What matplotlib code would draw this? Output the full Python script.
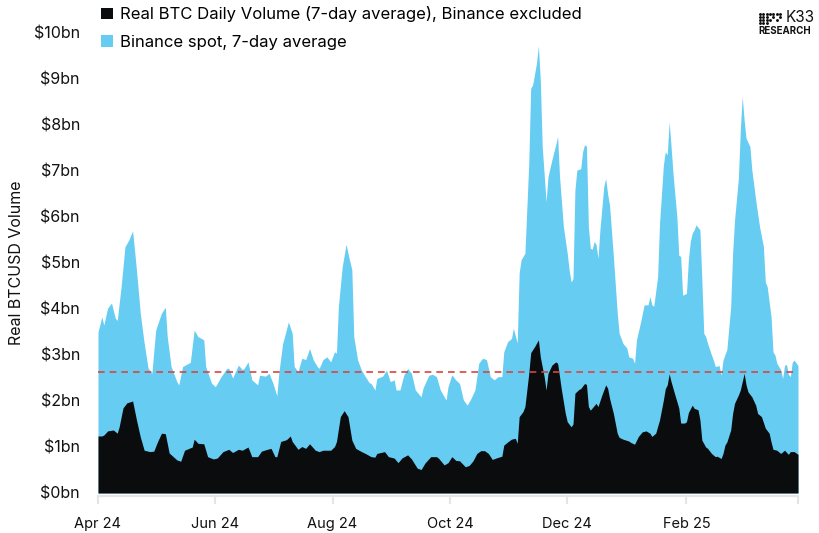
import numpy as np
import matplotlib
matplotlib.use("Agg")
import matplotlib.pyplot as plt
from matplotlib.patches import Patch

plt.rcParams['font.family'] = ['Inter', 'DejaVu Sans']

START = np.datetime64('2024-04-01')

# Combined volume (Real BTC excl. Binance + Binance spot), 7-day avg, $bn
total_days = [0, 2, 3, 5, 7, 9, 10, 12, 14, 16, 18, 20, 22, 24, 26, 28, 30, 33, 35, 36, 38, 41, 42, 44,
              48, 50, 52, 55, 56, 59, 61, 64, 67, 68, 70, 73, 75, 76, 78, 80, 83, 84, 87, 89, 91, 93, 94,
              96, 97, 99, 101, 102, 104, 106, 108, 110, 112, 114, 115, 117, 119, 121, 123, 124, 125, 127,
              129, 130, 132, 133, 135, 137, 139, 141, 142, 144, 145, 148, 150, 152, 154, 155, 157, 159,
              161, 163, 165, 168, 169, 172, 174, 176, 178, 181, 182, 184, 186, 188, 190, 192, 194, 196,
              198, 200, 202, 204, 206, 208, 210, 211, 213, 215, 216, 218, 219, 220, 222, 224, 225, 226,
              228, 229, 230, 231, 233, 234, 236, 238, 239, 240, 242, 244, 245, 246, 247, 248, 249, 251,
              252, 253, 254, 255, 256, 257, 258, 259, 260, 261, 263, 264, 265, 266, 268, 270, 271, 273,
              275, 276, 278, 279, 280, 282, 284, 286, 287, 288, 289, 291, 292, 294, 295, 296, 297, 298,
              299, 301, 302, 303, 304, 306, 307, 308, 309, 310, 311, 313, 314, 315, 316, 317, 319, 320,
              321, 323, 324, 325, 327, 329, 330, 331, 333, 334, 335, 336, 337, 339, 340, 342, 344, 346,
              347, 348, 350, 351, 352, 353, 355, 356, 357, 358, 359, 360, 361, 362, 364]
total_vals = [3.5, 3.83, 3.65, 4.02, 4.13, 3.8, 3.75, 4.48, 5.35, 5.5, 5.7, 4.85, 3.9, 3.26, 2.72, 2.6,
              3.54, 3.91, 4.04, 3.4, 2.75, 2.42, 2.35, 2.75, 2.84, 3.54, 3.4, 3.33, 2.75, 2.39, 2.31,
              2.53, 2.71, 2.71, 2.5, 2.78, 2.68, 2.71, 2.85, 2.46, 2.35, 2.56, 2.54, 2.6, 2.38, 2.11, 2.6,
              3.25, 3.4, 3.72, 3.47, 2.75, 2.64, 2.93, 2.9, 3.14, 2.89, 2.75, 2.71, 2.9, 2.96, 2.85,
              3.07, 3.04, 4.05, 4.92, 5.41, 5.21, 4.85, 3.4, 2.89, 2.67, 2.53, 2.4, 2.38, 2.24, 2.49,
              2.54, 2.67, 2.42, 2.46, 2.24, 2.24, 2.56, 2.71, 2.6, 2.24, 2.09, 2.28, 2.56, 2.58, 2.53,
              2.24, 2.02, 2.31, 2.57, 2.46, 2.38, 2.02, 1.91, 2.06, 2.24, 2.82, 2.93, 2.9, 2.53, 2.46,
              2.53, 2.53, 3.07, 3.29, 3.36, 3.58, 3.26, 4.78, 5.07, 5.21, 7.17, 8.8, 8.87, 9.34, 9.72,
              8.98, 7.53, 6.33, 6.88, 7.24, 7.57, 7.75, 6.88, 5.79, 5.21, 4.85, 4.59, 4.66, 6.59, 7.02,
              7.05, 7.42, 7.57, 7.54, 5.79, 5.32, 5.3, 5.47, 5.4, 5.1, 5.72, 6.66, 6.84, 6.5, 6.26, 5.14,
              3.91, 3.47, 3.25, 3.15, 2.96, 2.93, 2.82, 3.33, 3.69, 4.09, 4.09, 4.27, 4.09, 4.06, 4.7,
              5.86, 7.13, 7.42, 7.35, 8.07, 7.53, 6.95, 6.01, 5.17, 5.14, 4.3, 4.34, 5.07, 5.47, 5.65,
              5.72, 5.83, 5.72, 4.63, 3.47, 3.4, 3.25, 3.0, 2.89, 2.75, 2.77, 2.56, 2.89, 3.12, 4.05,
              5.21, 5.93, 6.84, 7.89, 8.62, 8.1, 7.71, 7.53, 7.02, 6.37, 5.79, 5.36, 4.59, 4.48, 3.83,
              3.07, 3.0, 2.82, 2.68, 2.49, 2.77, 2.8, 2.58, 2.53, 2.84, 2.89, 2.77]

# Real BTC daily volume excl. Binance, 7-day avg, $bn
real_days = [0, 2, 3, 5, 8, 10, 11, 13, 15, 18, 20, 22, 24, 27, 29, 31, 33, 35, 37, 41, 43, 45, 49, 50,
             52, 55, 57, 60, 62, 65, 68, 70, 73, 75, 78, 80, 83, 85, 88, 90, 92, 93, 95, 98, 100, 101,
             104, 106, 108, 110, 113, 115, 117, 121, 123, 124, 126, 128, 130, 132, 134, 137, 139, 142,
             144, 145, 149, 151, 154, 156, 158, 161, 163, 166, 168, 170, 173, 176, 177, 180, 182, 184,
             186, 188, 191, 193, 195, 197, 199, 201, 203, 205, 207, 210, 211, 213, 215, 217, 218, 219,
             221, 222, 224, 225, 227, 229, 230, 232, 233, 234, 236, 238, 239, 241, 243, 244, 246, 247,
             248, 250, 251, 253, 254, 255, 256, 257, 259, 260, 262, 264, 265, 266, 268, 270, 271, 273,
             276, 277, 279, 281, 283, 285, 287, 288, 290, 292, 294, 295, 296, 297, 298, 300, 302, 303,
             305, 306, 307, 309, 310, 312, 313, 314, 316, 317, 319, 321, 322, 324, 325, 326, 327, 329,
             330, 331, 333, 334, 335, 336, 337, 338, 340, 342, 343, 345, 347, 349, 350, 351, 353, 355,
             357, 359, 360, 362, 364]
real_vals = [1.24, 1.24, 1.26, 1.35, 1.37, 1.3, 1.44, 1.85, 1.96, 2.0, 1.59, 1.22, 0.93, 0.9, 0.91,
             1.12, 1.3, 1.29, 0.87, 0.72, 0.69, 0.93, 1.0, 1.17, 1.08, 1.07, 0.79, 0.74, 0.76, 0.9, 0.95,
             0.88, 0.95, 0.93, 1.0, 0.79, 0.79, 0.91, 0.95, 0.97, 0.79, 0.79, 1.12, 1.16, 1.24, 1.12,
             0.95, 1.01, 0.97, 1.07, 0.93, 0.9, 0.93, 0.93, 1.01, 1.12, 1.66, 1.79, 1.66, 1.15, 0.97,
             0.9, 0.86, 0.79, 0.78, 0.86, 0.9, 0.79, 0.76, 0.66, 0.76, 0.83, 0.74, 0.54, 0.51, 0.65,
             0.79, 0.79, 0.76, 0.61, 0.66, 0.79, 0.71, 0.7, 0.57, 0.6, 0.7, 0.86, 0.92, 0.92, 0.86, 0.73,
             0.76, 0.8, 1.04, 1.11, 1.17, 1.19, 1.08, 1.66, 1.77, 1.88, 2.6, 3.05, 3.18, 3.33, 2.96,
             2.53, 2.24, 2.6, 2.78, 2.85, 2.82, 2.24, 1.73, 1.55, 1.44, 1.5, 2.17, 2.25, 2.27, 2.38,
             2.36, 1.88, 1.8, 1.85, 1.95, 1.88, 2.13, 2.35, 2.28, 2.06, 1.73, 1.3, 1.21, 1.17, 1.13,
             1.1, 1.06, 1.23, 1.33, 1.35, 1.3, 1.23, 1.3, 1.59, 2.02, 2.27, 2.35, 2.59, 2.42, 2.13,
             1.85, 1.52, 1.52, 1.55, 1.75, 1.91, 1.84, 1.81, 1.59, 1.15, 1.0, 0.97, 0.86, 0.79, 0.8,
             0.75, 0.86, 1.04, 1.11, 1.37, 1.73, 1.95, 2.13, 2.24, 2.42, 2.6, 2.35, 2.2, 2.09, 1.91,
             1.73, 1.66, 1.41, 1.3, 1.11, 0.95, 0.93, 0.86, 0.93, 0.84, 0.9, 0.9, 0.84]

reference_level = 2.63
y_ticks = [0, 1, 2, 3, 4, 5, 6, 7, 8, 9, 10]
x_tick_dates = ['2024-04-01', '2024-06-01', '2024-08-01', '2024-10-01', '2024-12-01', '2025-02-01']
x_tick_labels = ['Apr 24', 'Jun 24', 'Aug 24', 'Oct 24', 'Dec 24', 'Feb 25']

label_real = 'Real BTC Daily Volume (7-day average), Binance excluded'
label_binance = 'Binance spot, 7-day average'

BLUE = '#66ccf2'
BLACK = '#0b0c0e'
TEXT = '#111111'

t_dates = (START + np.array(total_days).astype('timedelta64[D]')).astype('datetime64[ms]').astype(object)
r_dates = (START + np.array(real_days).astype('timedelta64[D]')).astype('datetime64[ms]').astype(object)

fig = plt.figure(figsize=(8.19, 5.33), dpi=100)
ax = fig.add_axes([98 / 819, 40 / 533, 700 / 819, 460 / 533])

ax.fill_between(t_dates, 0, total_vals, color=BLUE, linewidth=0, zorder=1)
ax.fill_between(r_dates, 0, real_vals, color=BLACK, linewidth=0, zorder=2)
ax.axhline(reference_level, color='#d9453f', linestyle=(0, (4, 3)), linewidth=1.2, zorder=3)

ax.set_ylim(0, 10)
ax.set_xlim(t_dates[0], t_dates[-1])
ax.set_yticks(y_ticks)
ax.set_yticklabels([f'${v}bn' for v in y_ticks])
xt = [np.datetime64(d).astype('datetime64[ms]').astype(object) for d in x_tick_dates]
ax.set_xticks(xt + [t_dates[-1]])
ax.set_xticklabels(x_tick_labels + [''])

for s in ['top', 'right', 'left']:
    ax.spines[s].set_visible(False)
ax.spines['bottom'].set_color('#e3e5e8')
ax.spines['bottom'].set_linewidth(1.5)
ax.spines['bottom'].set_position(('outward', 2))
ax.tick_params(axis='y', length=0, labelsize=11.5, pad=13, labelcolor=TEXT)
ax.tick_params(axis='x', length=6, width=1.5, color='#e3e5e8', labelsize=10.5, pad=9,
               labelcolor=TEXT)
ax.set_ylabel('Real BTCUSD Volume', fontsize=11.5, color=TEXT)
ax.yaxis.set_label_coords(-(98 - 24) / 700, 0.5)

handles = [Patch(facecolor=BLACK, edgecolor='none'), Patch(facecolor=BLUE, edgecolor='none')]
fig.legend(handles, [label_real, label_binance], loc='upper left',
           bbox_to_anchor=(98 / 819, 1.0 - 3 / 533), frameon=False, fontsize=12,
           handlelength=0.7, handleheight=0.7, handletextpad=0.4, labelspacing=0.75,
           borderaxespad=0, borderpad=0.2)

# K33 Research logo
fig.text(786 / 819, 1 - 18 / 533, 'K33', ha='left', va='center', fontsize=11, color=TEXT)
fig.text(811 / 819, 1 - 31 / 533, 'RESEARCH', ha='right', va='center', fontsize=7,
         fontweight='bold', color=TEXT)
lax = fig.add_axes([758 / 819, 1 - 24 / 533, 24 / 819, 12 / 533])
lax.axis('off')
xs, ys = [], []
for c in range(7):
    for r in range(4):
        if c < 3 or (r in (1, 2) and (c + r) % 2 == 0) or r == 3:
            xs.append(c)
            ys.append(r)
lax.scatter(xs, ys, s=1.2, color=TEXT)
lax.set_xlim(-0.5, 6.5)
lax.set_ylim(-0.5, 3.5)

fig.savefig('out.png', dpi=100)
